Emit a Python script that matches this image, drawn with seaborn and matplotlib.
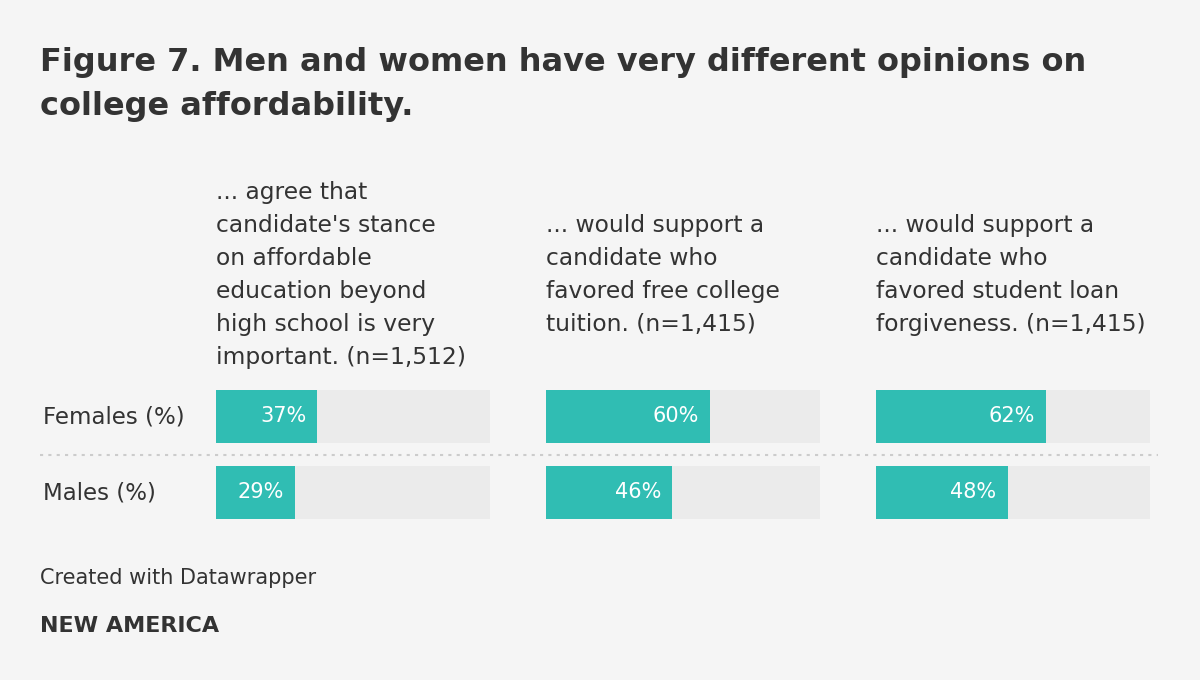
import matplotlib
matplotlib.use("Agg")
import matplotlib.pyplot as plt
import seaborn as sns
import pandas as pd
from matplotlib.lines import Line2D

groups = ["Females (%)", "Males (%)"]
panel_titles = [
    "... agree that\ncandidate's stance\non affordable\neducation beyond\nhigh school is very\nimportant. (n=1,512)",
    "... would support a\ncandidate who\nfavored free college\ntuition. (n=1,415)",
    "... would support a\ncandidate who\nfavored student loan\nforgiveness. (n=1,415)",
]
females = [37, 60, 62]
males = [29, 46, 48]
scale_max = 100

BG = "#f5f5f5"
TRACK = "#ebebeb"
TEAL = "#30bdb3"
TXT = "#333333"

sns.set_theme(style="white")
plt.rcParams["font.family"] = ["DejaVu Sans"]

W, H = 1200, 680
fig = plt.figure(figsize=(12, 6.8), dpi=100, facecolor=BG)

def px_axes(x0, y0, x1, y1):
    return fig.add_axes([x0 / W, 1 - y1 / H, (x1 - x0) / W, (y1 - y0) / H])

fig.text(40 / W, 1 - 62 / H, "Figure 7. Men and women have very different opinions on",
         fontsize=23, fontweight="bold", color=TXT, va="center", ha="left")
fig.text(40 / W, 1 - 106 / H, "college affordability.",
         fontsize=23, fontweight="bold", color=TXT, va="center", ha="left")

lefts = [216, 546, 876]
bw = 274
for i, x0 in enumerate(lefts):
    ax = px_axes(x0, 389.9, x0 + bw, 519.1)
    ax.set_facecolor("none")
    df = pd.DataFrame({"group": groups, "value": [females[i], males[i]],
                       "full": [scale_max, scale_max]})
    sns.barplot(data=df, x="full", y="group", orient="h", color=TRACK,
                width=0.7, ax=ax, saturation=1, linewidth=0, edgecolor="none")
    sns.barplot(data=df, x="value", y="group", orient="h", color=TEAL,
                width=0.7, ax=ax, saturation=1, linewidth=0, edgecolor="none")
    ax.set_xlim(0, scale_max)
    ax.set_ylim(1.35, -0.35)
    ax.set_xlabel("")
    ax.set_ylabel("")
    ax.set_xticks([])
    ax.set_yticks([])
    for s in ax.spines.values():
        s.set_visible(False)
    for j, v in enumerate(df["value"]):
        ax.annotate(f"{v}%", xy=(v, j), xytext=(-8, 0), textcoords="offset points",
                    ha="right", va="center", color="white", fontsize=15)
    fig.text(x0 / W, 1 - 275 / H, panel_titles[i], fontsize=16.8, color=TXT,
             ha="left", va="center", linespacing=1.55)

fig.text(43 / W, 1 - 416.5 / H, groups[0], fontsize=16.5, color=TXT, ha="left", va="center")
fig.text(43 / W, 1 - 492.5 / H, groups[1], fontsize=16.5, color=TXT, ha="left", va="center")

fig.add_artist(Line2D([40 / W, 1158 / W], [1 - 455 / H, 1 - 455 / H],
                      transform=fig.transFigure, color="#cccccc", lw=1.5,
                      linestyle=(0, (1.5, 2.5))))

fig.text(40 / W, 1 - 578 / H, "Created with Datawrapper", fontsize=15,
         color=TXT, ha="left", va="center")
fig.text(40 / W, 1 - 626 / H, "NEW AMERICA", fontsize=16, fontweight="bold",
         color=TXT, ha="left", va="center")

fig.savefig("out.png", dpi=100, facecolor=BG)
